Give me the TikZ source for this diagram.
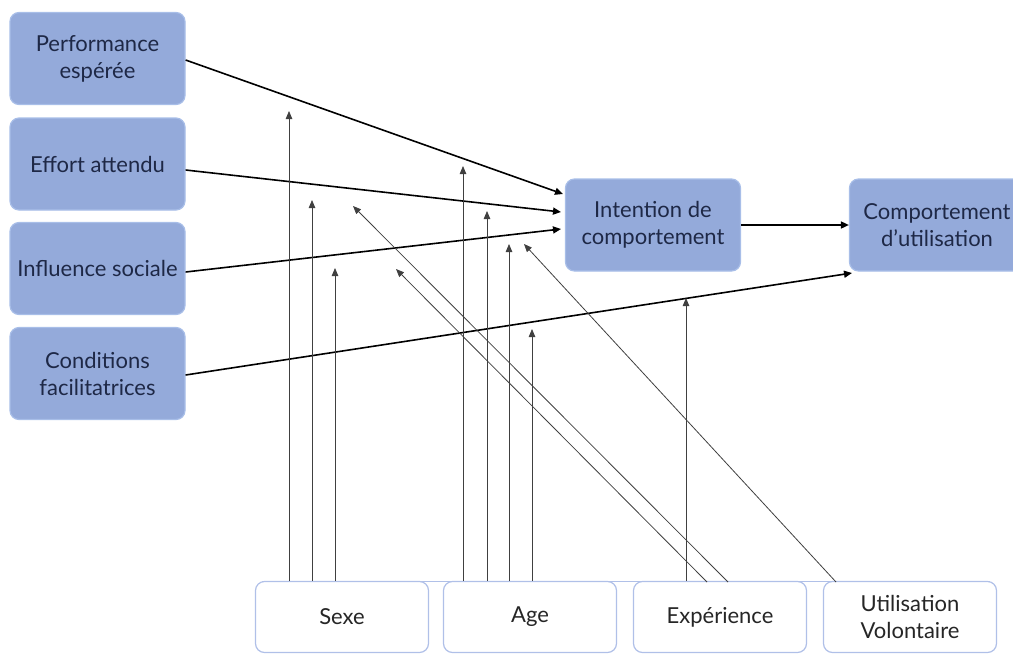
\documentclass[tikz,border=0pt]{standalone}
\usepackage{fontspec}
\setmainfont{Lato}
\usetikzlibrary{arrows.meta}
\definecolor{boxfill}{RGB}{148,170,218}
\definecolor{boxline}{RGB}{168,190,232}
\definecolor{boxtext}{RGB}{30,40,70}
\definecolor{modline}{RGB}{176,192,232}
\tikzset{
  factor/.style={draw=boxline, line width=1.2pt, fill=boxfill, rounded corners=9pt,
    minimum width=175pt, minimum height=92pt, align=center, text=boxtext,
    font=\fontsize{22}{27}\selectfont, inner sep=0pt},
  modbox/.style={draw=modline, line width=1.2pt, fill=white, rounded corners=9pt,
    minimum width=173pt, minimum height=71pt, align=center, text=black!85,
    font=\fontsize{22}{27}\selectfont, inner sep=0pt},
  mainarrow/.style={line width=1.6pt, -{Triangle[length=8pt,width=7pt]}},
  modarrow/.style={line width=0.8pt, draw=black!75, -{Triangle[length=8pt,width=6.5pt]}},
}
\begin{document}
\begin{tikzpicture}[x=1pt,y=-1pt]
\useasboundingbox (0,0) rectangle (1013,657);
\begin{scope}
\clip (0,0) rectangle (1013,657);
% left factors
\node[factor] (perf) at (97.5,58.5) {Performance\\espérée};
\node[factor] (eff) at (97.5,164) {Effort attendu};
\node[factor] (inf) at (97.5,268.5) {Influence sociale};
\node[factor] (cond) at (97.5,373.5) {Conditions\\facilitatrices};
% central
\node[factor] (int) at (653,225) {Intention de\\comportement};
\node[factor] (comp) at (937,225) {Comportement\\d'utilisation};
% moderators
\draw[modline, line width=0.8pt] (262,581.5) -- (990,581.5);
\node[modbox] (sexe) at (342,617) {Sexe};
\node[modbox] (age) at (530,617) {Age};
\node[modbox] (exp) at (720,617) {Expérience};
\node[modbox] (vol) at (910,617) {Utilisation\\Volontaire};
% coordinates for arrow targets
\coordinate (tPerf) at (563,194);
\coordinate (tEff) at (561,212);
\coordinate (tInf) at (561,229);
\coordinate (tCond) at (852,273);
% main arrows
\draw[mainarrow] (perf.east |- 0,60) -- (tPerf);
\draw[mainarrow] (eff.east |- 0,170) -- (tEff);
\draw[mainarrow] (inf.east |- 0,272) -- (tInf);
\draw[mainarrow] (cond.east |- 0,375) -- (tCond);
\draw[mainarrow] (int.east) -- (comp.west);
% moderator arrows: sexe
\coordinate (s1) at (289,111); \coordinate (s2) at (312,200); \coordinate (s3) at (335,268);
\draw[modarrow] (sexe.north -| s1) -- (s1);
\draw[modarrow] (sexe.north -| s2) -- (s2);
\draw[modarrow] (sexe.north -| s3) -- (s3);
% age
\coordinate (a1) at (463,166); \coordinate (a2) at (487,211); \coordinate (a3) at (509,244); \coordinate (a4) at (532,329);
\draw[modarrow] (age.north -| a1) -- (a1);
\draw[modarrow] (age.north -| a2) -- (a2);
\draw[modarrow] (age.north -| a3) -- (a3);
\draw[modarrow] (age.north -| a4) -- (a4);
% experience
\coordinate (e1) at (686,298); \coordinate (e2) at (353,206); \coordinate (e3) at (396,269);
\coordinate (e2s) at (728,582); \coordinate (e3s) at (707,582);
\draw[modarrow] (exp.north -| e1) -- (e1);
\draw[modarrow] (e2s) -- (e2);
\draw[modarrow] (e3s) -- (e3);
% volontaire
\coordinate (v1) at (524,244); \coordinate (v1s) at (836,582);
\draw[modarrow] (v1s) -- (v1);
\end{scope}
\end{tikzpicture}
\end{document}
